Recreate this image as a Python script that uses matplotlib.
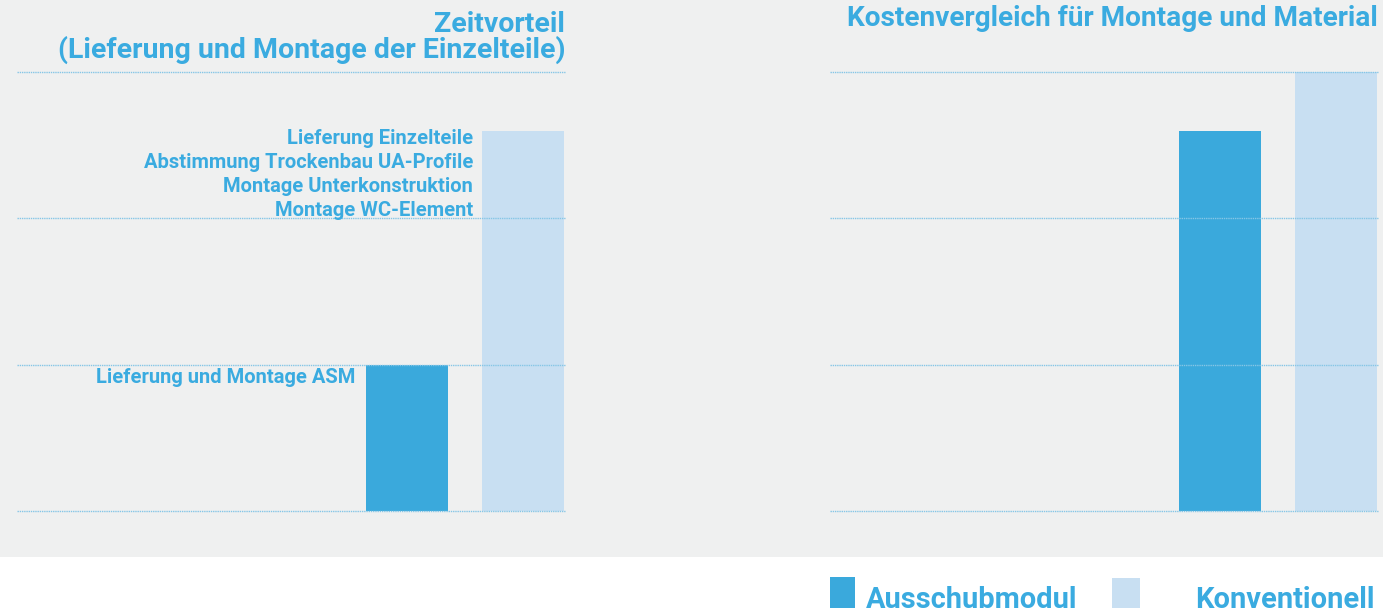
import matplotlib
matplotlib.use('Agg')
import matplotlib.pyplot as plt
from matplotlib.patches import Rectangle

# data
series = ['Ausschubmodul', 'Konventionell']
zeit_values = [1.0, 2.6]
kosten_values = [2.6, 3.0]
title_left = 'Zeitvorteil\n(Lieferung und Montage der Einzelteile)'
title_right = 'Kostenvergleich für Montage und Material'
notes_konv = ['Lieferung Einzelteile', 'Abstimmung Trockenbau UA-Profile',
              'Montage Unterkonstruktion', 'Montage WC-Element']
note_asm = 'Lieferung und Montage ASM'

dark = '#3aa9dc'
light = '#c8dff2'
txt = '#3aabe0'
grid = '#86c6e6'
bg = '#eff0f0'

plt.rcParams['font.family'] = ['Roboto', 'DejaVu Sans']
W, H = 1383, 615
fig = plt.figure(figsize=(W/100, H/100), dpi=100)
fig.patch.set_facecolor('white')
fig.patches.append(Rectangle((0, 1-557/H), 1, 557/H, transform=fig.transFigure,
                             facecolor=bg, edgecolor='none', zorder=-10))

def px(x, y):
    return x/W, 1-y/H

def make_axes(left, values):
    ax = fig.add_axes([left/W, 1-511/H, 548/W, 439/H])
    ax.patch.set_alpha(0)
    ax.bar([0, 1], values, width=0.707, color=[dark, light], zorder=2)
    for g in range(4):
        ax.axhline(g, color=grid, lw=1, ls=(0, (1, 0.6)), zorder=3, clip_on=False)
    ax.set_xlim(-3.362, 1.362)
    ax.set_ylim(0, 3)
    ax.axis('off')
    return ax

ax1 = make_axes(17, zeit_values)
ax2 = make_axes(830, kosten_values)

# titles
fig.text(*px(565, 32), 'Zeitvorteil', ha='right', va='baseline', color=txt,
         fontsize=20.5, fontweight='bold')
fig.text(*px(565, 58), title_left.split('\n')[1], ha='right', va='baseline',
         color=txt, fontsize=20.5, fontweight='bold')
fig.text(*px(1378, 26), title_right, ha='right', va='baseline', color=txt,
         fontsize=20.2, fontweight='bold')

# annotations
for i, s in enumerate(notes_konv):
    fig.text(*px(473, 144+24*i), s, ha='right', va='baseline', color=txt,
             fontsize=14.5, fontweight='bold')
fig.text(*px(355, 383), note_asm, ha='right', va='baseline', color=txt,
         fontsize=14.5, fontweight='bold')

# legend
fig.patches.append(Rectangle(px(830, 608), 25/W, 31/H, transform=fig.transFigure,
                             facecolor=dark, edgecolor='none'))
fig.patches.append(Rectangle(px(1112, 608), 28/W, 30/H, transform=fig.transFigure,
                             facecolor=light, edgecolor='none'))
fig.text(*px(866, 608), series[0], ha='left', va='baseline', color=txt,
         fontsize=20.9, fontweight='bold')
fig.text(*px(1195, 608), series[1], ha='left', va='baseline', color=txt,
         fontsize=21, fontweight='bold')

fig.savefig('out.png', dpi=100, facecolor='white')
